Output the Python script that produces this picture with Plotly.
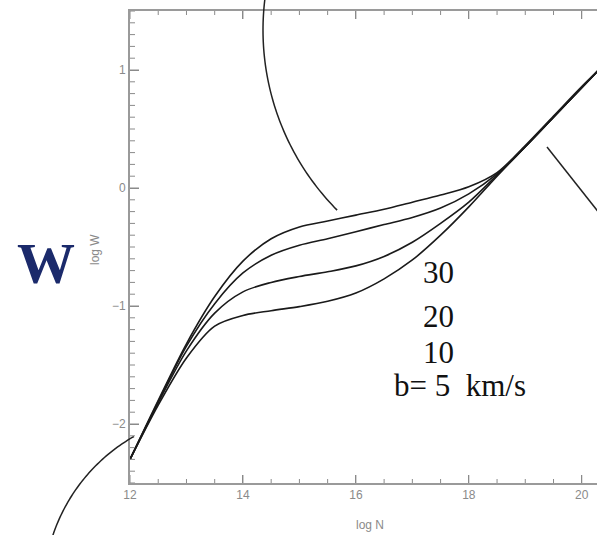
import math
import plotly.graph_objects as go

# ---- data ----
logN = [12.0, 12.5, 13.0, 13.5, 14.0, 14.5, 15.0, 15.5, 16.0, 16.5, 17.0, 17.5, 18.0, 18.5, 19.0, 19.5, 20.0, 20.3]
logW_b5 = [-2.30, -1.84, -1.44, -1.17, -1.08, -1.04, -1.005, -0.96, -0.89, -0.77, -0.61, -0.40, -0.16, 0.10, 0.35, 0.60, 0.85, 1.00]
logW_b10 = [-2.30, -1.82, -1.38, -1.06, -0.88, -0.80, -0.75, -0.71, -0.66, -0.58, -0.46, -0.30, -0.12, 0.11, 0.35, 0.60, 0.85, 1.00]
logW_b20 = [-2.30, -1.81, -1.34, -0.98, -0.72, -0.57, -0.485, -0.43, -0.37, -0.31, -0.25, -0.17, -0.05, 0.12, 0.35, 0.60, 0.85, 1.00]
logW_b30 = [-2.30, -1.80, -1.32, -0.92, -0.62, -0.43, -0.33, -0.28, -0.23, -0.18, -0.12, -0.06, 0.01, 0.13, 0.36, 0.61, 0.86, 1.00]
series = [logW_b5, logW_b10, logW_b20, logW_b30]
b_labels = ["30", "20", "10", "b= 5\u00a0\u00a0km/s"]
x_tick_step, x_minor_step = 2, 0.5
y_tick_step, y_minor_step = 1, 0.1
x_range = [12, 20.27]
y_range = [-2.5, 1.5]

# ---- layout geometry (pixels) ----
FW, FH = 597, 535
ML, MR, MT, MB = 130, 0, 11, 52
PW, PH = FW - ML - MR, FH - MT - MB


def paper(px, py):
    return (px - ML) / PW, (FH - MB - py) / PH


fig = go.Figure()
for ys in series:
    fig.add_trace(go.Scatter(x=logN, y=ys, mode="lines",
                             line=dict(color="#1a1a1a", width=1.6, shape="spline", smoothing=0.9),
                             showlegend=False, hoverinfo="skip"))

axis_col = "#8a8a8a"
clear = "rgba(0,0,0,0)"
tick_font = dict(family="Liberation Sans Narrow, Liberation Sans, Arial", size=12, color="#8a8a8a")

fig.update_xaxes(range=x_range, dtick=x_tick_step, ticks="inside", ticklen=8, tickwidth=1,
                 tickcolor=axis_col, showline=True, linecolor="#9a9a9a", linewidth=2,
                 mirror="ticks", gridcolor=clear, zerolinecolor=clear, tickfont=tick_font)
fig.update_yaxes(range=y_range, dtick=y_tick_step, ticks="inside", ticklen=9, tickwidth=1,
                 tickcolor=axis_col, showline=True, linecolor="#9a9a9a", linewidth=2,
                 gridcolor=clear, zerolinecolor=clear, tickfont=tick_font)


def arc_path(cx, cy, r, t0, t1, n=60):
    pts = []
    for i in range(n + 1):
        t = t0 + (t1 - t0) * i / n
        pts.append(paper(cx + r * math.cos(t), cy + r * math.sin(t)))
    return "M " + " L ".join(f"{x:.5f},{y:.5f}" for x, y in pts)


shapes = [
    dict(type="path", xref="paper", yref="paper", path=arc_path(519, 30, 256, 3.26, 2.361),
         line=dict(color="#222", width=1.5)),
    dict(type="path", xref="paper", yref="paper", path=arc_path(222.7, 591.9, 179, -2.09, -2.9),
         line=dict(color="#222", width=1.5)),
]
x0, y0 = paper(547, 147)
x1, y1 = paper(600, 214)
shapes.append(dict(type="line", xref="paper", yref="paper", x0=x0, y0=y0, x1=x1, y1=y1,
                   line=dict(color="#222", width=1.5)))

# axis tick marks (major + minor), placed on the axes' own scales
tick_line = dict(color=axis_col, width=1)
n_x = int(round((x_range[1] - x_range[0]) / x_minor_step))
for i in range(n_x + 1):
    xv = round(x_range[0] + i * x_minor_step, 6)
    if xv > x_range[1]:
        break
    major = abs(xv / x_tick_step - round(xv / x_tick_step)) < 1e-6
    ln = (8 if major else 4) / PH
    shapes.append(dict(type="line", xref="x", yref="paper", x0=xv, x1=xv, y0=0, y1=ln, line=tick_line))
    shapes.append(dict(type="line", xref="x", yref="paper", x0=xv, x1=xv, y0=1, y1=1 - ln, line=tick_line))
n_y = int(round((y_range[1] - y_range[0]) / y_minor_step))
for i in range(n_y + 1):
    yv = round(y_range[0] + i * y_minor_step, 6)
    major = abs(yv / y_tick_step - round(yv / y_tick_step)) < 1e-6
    ln = (9 if major else 5) / PW
    shapes.append(dict(type="line", xref="paper", yref="y", x0=0, x1=ln, y0=yv, y1=yv, line=tick_line))
fig.update_layout(shapes=shapes)

annots = []
lab_pos = [(438, 272), (438, 316), (438, 352)]
serif = "Liberation Serif, Times New Roman, serif"
for (px, py), txt in zip(lab_pos, b_labels[:3]):
    ax, ay = paper(px, py)
    annots.append(dict(x=ax, y=ay, xref="paper", yref="paper", text=txt, showarrow=False,
                       font=dict(family=serif, size=31, color="#111"), xanchor="center", yanchor="middle"))
ax, ay = paper(392, 385)
annots.append(dict(x=ax, y=ay, xref="paper", yref="paper", text=b_labels[3], showarrow=False,
                   font=dict(family=serif, size=31, color="#111"), xanchor="left", yanchor="middle"))
ax, ay = paper(46, 263)
annots.append(dict(x=ax, y=ay, xref="paper", yref="paper", text="<b>W</b>", showarrow=False,
                   font=dict(family=serif, size=58, color="#1b2a6b"), xanchor="center", yanchor="middle"))
ax, ay = paper(95, 250)
annots.append(dict(x=ax, y=ay, xref="paper", yref="paper", text="log W", showarrow=False, textangle=-90,
                   font=tick_font, xanchor="center", yanchor="middle"))
ax, ay = paper(370, 525)
annots.append(dict(x=ax, y=ay, xref="paper", yref="paper", text="log N", showarrow=False,
                   font=tick_font, xanchor="center", yanchor="middle"))
fig.update_layout(annotations=annots)

fig.update_layout(width=FW, height=FH, margin=dict(l=ML, r=MR, t=MT, b=MB),
                  paper_bgcolor="white", plot_bgcolor="white")
fig.write_html("out.html")
